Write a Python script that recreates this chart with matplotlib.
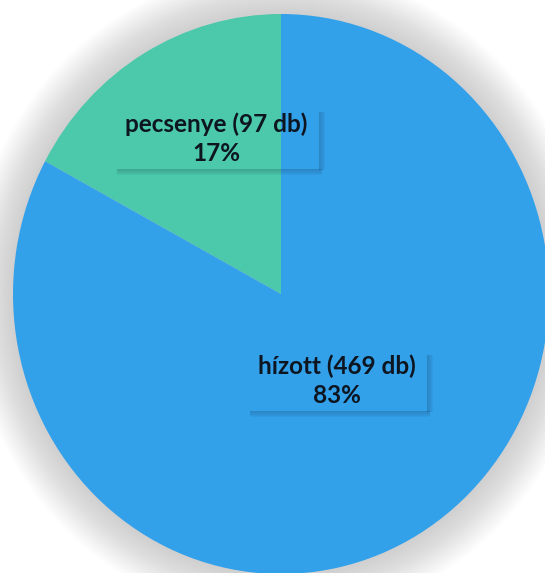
import matplotlib
matplotlib.use('Agg')
import matplotlib.pyplot as plt
import matplotlib.patches as mpatches
import numpy as np

labels = ['pecsenye', 'hízott']
counts = [97, 469]
colors = ['#4cc8aa', '#33a0ea']
# label centres in pie units (x, y)
label_pos = [(-0.24, 0.555), (0.21, -0.31)]

W, H = 545, 573
fig = plt.figure(figsize=(W / 100, H / 100), dpi=100)
fig.patch.set_facecolor('white')
ax = fig.add_axes([0, 0, 1, 1])

# pie centre (281, 294) px, radius 268 px wide, 280 px tall
cx, cy, rx, ry = 281, 294, 268, 280

# soft grey halo around the pie
for k in range(18):
    s = 1.0 + 0.009 * (18 - k)
    ax.add_patch(mpatches.Ellipse((0, 0), 2 * s, 2 * s, color='#a0a0a0',
                                  alpha=0.03, lw=0, zorder=0))

total = sum(counts)
wedges, _ = ax.pie(counts, colors=colors, startangle=90, counterclock=True,
                   radius=1.0, wedgeprops=dict(linewidth=0))
ax.set_aspect('auto')
ax.set_xlim(-cx / rx, (W - cx) / rx)
ax.set_ylim(-(H - cy) / ry, cy / ry)
ax.axis('off')

texts = []
for lab, n, (x, y) in zip(labels, counts, label_pos):
    pct = round(100 * n / total)
    t = ax.text(x, y, f'{lab} ({n} db)\n{pct}%', ha='center', va='center',
                fontsize=17.5, fontweight='bold', family='Lato',
                color='#0d1620', linespacing=1.3, zorder=5)
    texts.append(t)

fig.canvas.draw()
r = fig.canvas.get_renderer()
for t in texts:
    bb = t.get_window_extent(r)
    x0, y0 = bb.x0 - 11, bb.y0 - 4
    x1, y1 = bb.x1 + 11, bb.y1 + 4
    # drop shadow along bottom and right edges of the (transparent) label box
    for i in range(6):
        a = 0.2 - 0.03 * i
        fig.patches.append(mpatches.Rectangle((x0 + 3, y0 - 1 - i), x1 - x0, 1,
                                              transform=None, color='#0a2030',
                                              alpha=a, lw=0, zorder=4))
        fig.patches.append(mpatches.Rectangle((x1 + i, y0 - 1), 1, y1 - y0 - 3,
                                              transform=None, color='#0a2030',
                                              alpha=a, lw=0, zorder=4))

fig.savefig('out.png', dpi=100)
